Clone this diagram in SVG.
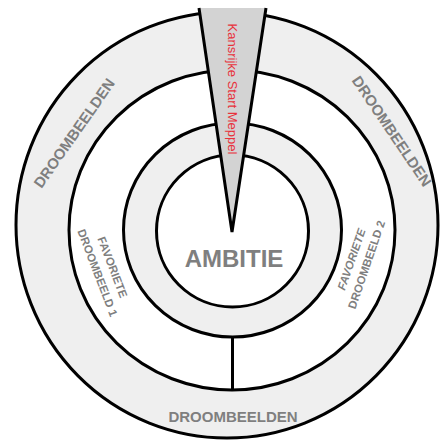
<svg xmlns="http://www.w3.org/2000/svg" width="440" height="440" viewBox="0 0 440 440">
<style>
.ring{stroke:#000;stroke-width:3}
.g{fill:#efefef}
.w{fill:#fff}
.lbl{font-family:"Liberation Sans",Arial,sans-serif;fill:#7f7f7f;font-weight:bold}
.sm{font-size:11.5px}
.red{font-family:"Liberation Sans",Arial,sans-serif;fill:#e8323c;font-size:13px}
</style>
<rect width="440" height="440" fill="#fff"/>
<g id="rings">
<ellipse id="ring-outer" class="ring g" cx="227" cy="225" rx="211" ry="213"/>
<ellipse id="ring-droom" class="ring w" cx="232" cy="230" rx="163" ry="160"/>
<ellipse id="ring-fav" class="ring g" cx="232.5" cy="230" rx="109" ry="107"/>
<ellipse id="ambitie" class="ring w" cx="232.5" cy="231" rx="76" ry="76"/>
</g>
<g id="connectors">
<line x1="232.5" y1="337" x2="232.5" y2="390" stroke="#000" stroke-width="3"/>
</g>
<g id="wedge">
<polygon points="199,8 266,8 232,232" fill="#d3d3d3"/>
<polyline points="199,8 232,232 266,8" fill="none" stroke="#000" stroke-width="3" stroke-linejoin="miter"/>
<text class="red" transform="translate(232,89) rotate(90)" text-anchor="middle" dominant-baseline="central">Kansrijke Start Meppel</text>
</g>
<g id="label-ambitie">
<text class="lbl" x="234" y="267" font-size="24" text-anchor="middle">AMBITIE</text>
</g>
<g id="label-droom-left">
<text class="lbl" font-size="15" transform="translate(74,133) rotate(-55)" text-anchor="middle" dominant-baseline="central">DROOMBEELDEN</text>
</g>
<g id="label-droom-right">
<text class="lbl" font-size="15" transform="translate(392,131) rotate(56)" text-anchor="middle" dominant-baseline="central">DROOMBEELDEN</text>
</g>
<g id="label-droom-bottom">
<text class="lbl" font-size="15" x="233" y="422" text-anchor="middle">DROOMBEELDEN</text>
</g>
<g id="label-fav1">
<g transform="translate(105,270) rotate(69)">
<text class="lbl sm" x="0" y="-8" text-anchor="middle" dominant-baseline="central">FAVORIETE</text>
<text class="lbl sm" x="0" y="8" text-anchor="middle" dominant-baseline="central">DROOMBEELD 1</text>
</g>
</g>
<g id="label-fav2">
<g transform="translate(359,262) rotate(-71)">
<text class="lbl sm" x="0" y="-8" text-anchor="middle" dominant-baseline="central" font-style="italic">FAVORIETE</text>
<text class="lbl sm" x="0" y="8" text-anchor="middle" dominant-baseline="central">DROOMBEELD 2</text>
</g>
</g>
</svg>
